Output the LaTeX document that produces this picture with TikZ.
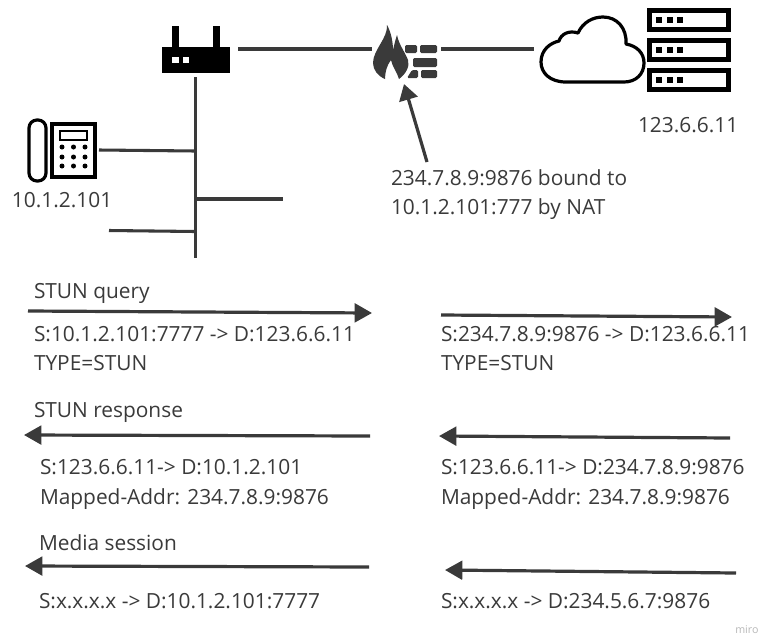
\documentclass[tikz,border=0pt]{standalone}
\usepackage{fontspec}
\setmainfont{Open Sans}
\usetikzlibrary{arrows.meta}
\definecolor{ink}{HTML}{3A3A3A}
\tikzset{
  lbl/.style={anchor=base west,inner sep=0pt,outer sep=0pt,text=ink,font=\fontsize{15.65pt}{18pt}\selectfont},
  wire/.style={draw=ink,line width=2.3pt},
  flow/.style={draw=ink,line width=2.4pt,-{Triangle[length=13pt,width=14pt]}},
  icon/.style={draw=black,line width=2.4pt,fill=white}
}
\begin{document}
\begin{tikzpicture}[x=0.75pt,y=-0.75pt]
\useasboundingbox (0,0) rectangle (763,640);
\fill[white] (0,0) rectangle (763,640);
% router
\fill[black] (162,47) rectangle (230,73);
\fill[black] (172,26) rectangle (179,47);
\fill[black] (213,26) rectangle (220,47);
\fill[white] (172,57) rectangle (179,63);
\fill[white] (183,57) rectangle (189,63);
% phone
\draw[icon,rounded corners=6pt] (29,120) rectangle (46,181);
\draw[icon] (52,124) rectangle (95,177);
\draw[icon,line width=2pt] (60,131) rectangle (87,140);
\foreach \x in {62,73.5,85}\foreach \y in {147,157,166}\fill[black] (\x,\y) circle (2.5);
% firewall
\fill[ink,rounded corners=1pt] (405,45) rectangle (417,53);
\fill[ink,rounded corners=1pt] (420,45) rectangle (437,53);
\fill[ink,rounded corners=1pt] (413,58) rectangle (437,67);
\fill[ink,rounded corners=1pt] (412,70) -- (418,70) -- (418,78) -- (407,78) -- cycle;
\fill[ink,rounded corners=1pt] (421,70) rectangle (437,78);
\fill[ink] (387,25) .. controls (388,38) and (373,50) .. (373,63)
  .. controls (373,70) and (378,76) .. (385,79)
  .. controls (385,72) and (387,65) .. (391,60)
  .. controls (392,66) and (397,72) .. (399,79)
  .. controls (406,74) and (410,66) .. (408,60)
  .. controls (405,52) and (399,45) .. (397,35)
  .. controls (395,41) and (394,46) .. (393,50)
  .. controls (393,42) and (391,32) .. (387,25) -- cycle;
% cloud
\draw[black,line width=2.4pt,fill=white,line join=round] (566,82)
  .. controls (550,82) and (541,73) .. (541,62)
  .. controls (541,50) and (550,43) .. (559,41)
  .. controls (561,34) and (569,30) .. (578,33)
  .. controls (583,22) and (593,17) .. (603,17)
  .. controls (617,17) and (627,28) .. (626,44)
  .. controls (637,46) and (644,53) .. (644,63)
  .. controls (644,74) and (636,82) .. (624,82) -- cycle;
% servers
\foreach \y in {10.5,40.5,70.5}{
  \draw[black,line width=3.4pt,fill=white] (649.5,\y) rectangle (728.5,\y+19);
  \foreach \x in {659,670,680}\fill[black] (\x-2.8,\y+6.7) rectangle (\x+2.8,\y+12.3);
}
% anchors of the connectors
\coordinate (routerE) at (238,49);
\coordinate (fwW) at (372,49);
\coordinate (fwE) at (441,49);
\coordinate (cloudW) at (534,49);
\coordinate (routerS) at (195.5,77);
\coordinate (busEnd) at (195.5,258);
\coordinate (phoneE) at (99,150);
\coordinate (busA) at (195.5,151);
\coordinate (busB) at (197,199);
\coordinate (stubB) at (283,199);
\coordinate (stubC) at (109,230.5);
\coordinate (busC) at (195.5,231.5);
\coordinate (natTail) at (427,162);
\coordinate (fwS) at (404,84);
\draw[wire] (routerE) -- (fwW);
\draw[wire] (fwE) -- (cloudW);
\draw[wire] (routerS) -- (busEnd);
\draw[wire] (phoneE) -- (busA);
\draw[wire] (busB) -- (stubB);
\draw[wire] (stubC) -- (busC);
\draw[draw=ink,line width=2.4pt,-{Triangle[length=12pt,width=14pt]}] (natTail) -- (fwS);
% flow arrows
\coordinate (a1) at (28,311); \coordinate (a2) at (372,313);
\coordinate (b1) at (441,315); \coordinate (b2) at (732,317);
\coordinate (c1) at (370,436); \coordinate (c2) at (24,435);
\coordinate (d1) at (730,438); \coordinate (d2) at (439,436);
\coordinate (e1) at (369,567); \coordinate (e2) at (25,566);
\coordinate (f1) at (736,573); \coordinate (f2) at (445,570);
\draw[flow] (a1) -- (a2);
\draw[flow] (b1) -- (b2);
\draw[flow] (c1) -- (c2);
\draw[flow] (d1) -- (d2);
\draw[flow] (e1) -- (e2);
\draw[flow] (f1) -- (f2);
% labels
\node[lbl] (t1) at (12,207) {10.1.2.101};
\node[lbl] (t2) at (638,132) {123.6.6.11};
\node[lbl] (t3) at (391,185) {234.7.8.9:9876 bound to};
\node[lbl] (t4) at (391,214) {10.1.2.101:777 by NAT};
\node[lbl] (t5) at (34,298) {STUN query};
\node[lbl] (t6) at (34,341) {S:10.1.2.101:7777 -> D:123.6.6.11};
\node[lbl] (t7) at (34,370) {TYPE=STUN};
\node[lbl] (t8) at (441,341) {S:234.7.8.9:9876 -> D:123.6.6.11};
\node[lbl] (t9) at (441,370) {TYPE=STUN};
\node[lbl] (t10) at (34,417) {STUN response};
\node[lbl] (t11) at (40,474) {S:123.6.6.11-> D:10.1.2.101};
\node[lbl] (t12) at (40,504) {Mapped-Addr: 234.7.8.9:9876};
\node[lbl] (t13) at (441,474) {S:123.6.6.11-> D:234.7.8.9:9876};
\node[lbl] (t14) at (441,504) {Mapped-Addr: 234.7.8.9:9876};
\node[lbl] (t15) at (39,550) {Media session};
\node[lbl] (t16) at (39,608) {S:x.x.x.x -> D:10.1.2.101:7777};
\node[lbl] (t17) at (441,608) {S:x.x.x.x -> D:234.5.6.7:9876};
\node[anchor=base west,inner sep=0pt,text=black!28,font=\fontsize{8pt}{9pt}\selectfont] (t18) at (735,633) {miro};
\end{tikzpicture}
\end{document}
